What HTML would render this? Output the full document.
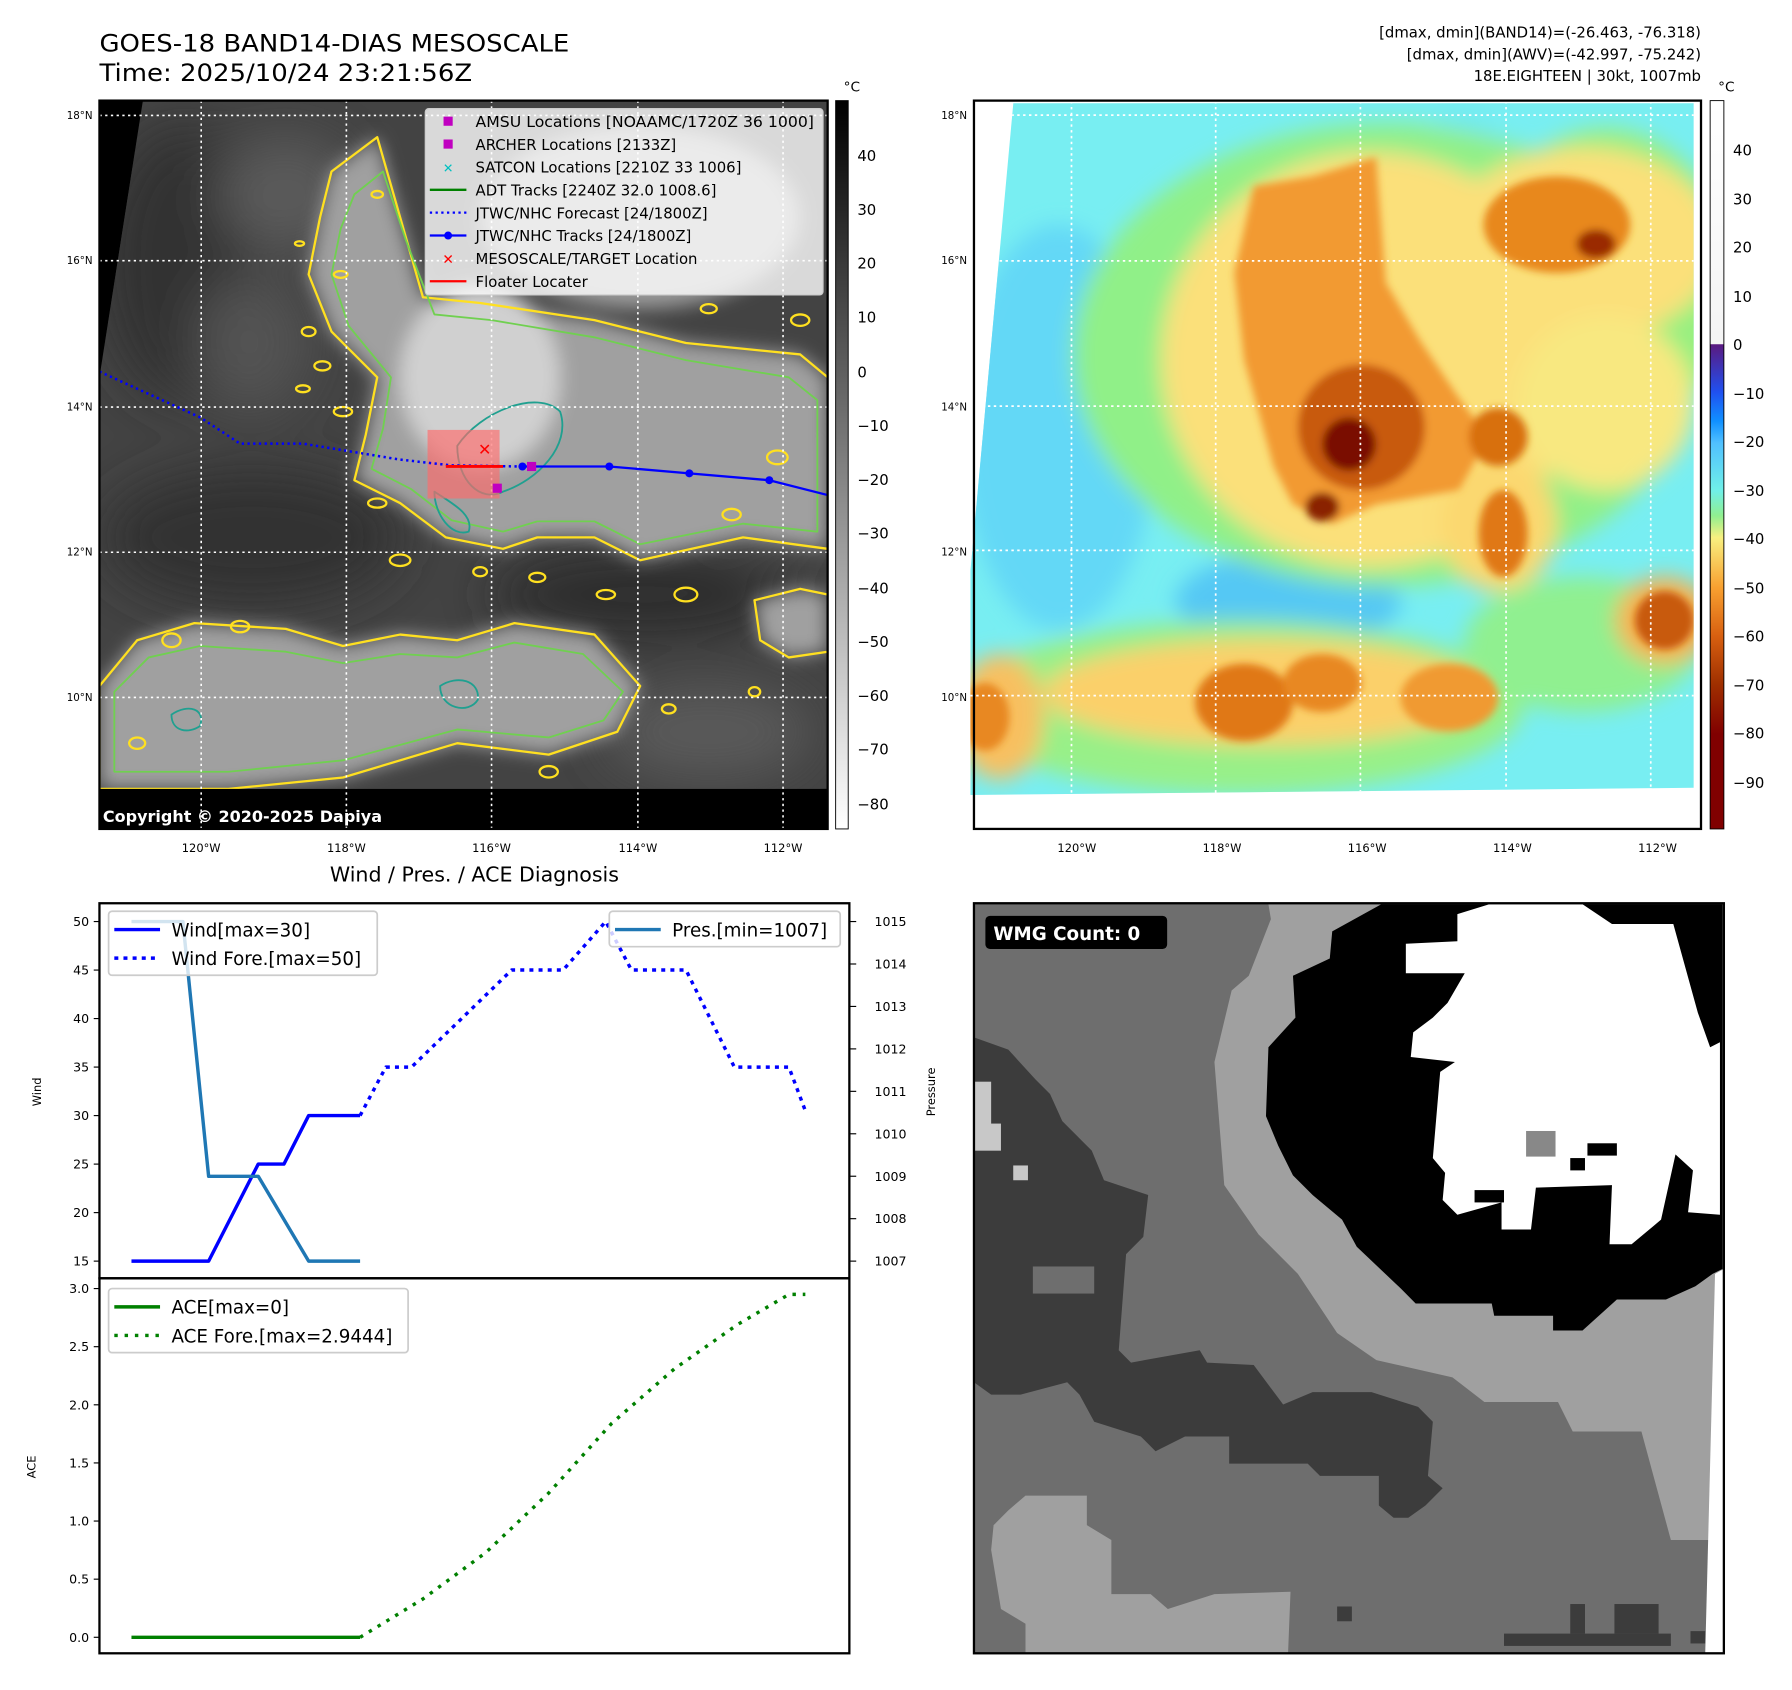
<!DOCTYPE html>
<html><head><meta charset="utf-8">
<style>
html,body{margin:0;padding:0;background:#fff;}
svg{display:block;font-family:"DejaVu Sans","Liberation Sans",sans-serif;}
</style></head>
<body>
<svg id="root" width="1792" height="1690" viewBox="0 0 1567.6 1478.1" preserveAspectRatio="none">
<defs>
  <clipPath id="clipL"><polygon points="125,88 724,88 724,690 87,698 87,330"/></clipPath>
  <clipPath id="clipR"><polygon points="88,28 1480,28 1480,1447 0,1462 0,1000"/></clipPath>
  <filter id="blur8" x="-20%" y="-20%" width="140%" height="140%"><feGaussianBlur stdDeviation="8"/></filter>
  <filter id="blur20" x="-20%" y="-20%" width="140%" height="140%"><feGaussianBlur stdDeviation="22"/></filter>
  <linearGradient id="cbL" x1="0" y1="0" x2="0" y2="1">
    <stop offset="0" stop-color="#000"/><stop offset="1" stop-color="#fff"/>
  </linearGradient>
  <linearGradient id="cbR" x1="0" y1="0" x2="0" y2="1">
    <stop offset="0" stop-color="#ffffff"/><stop offset="0.334" stop-color="#f4f4f4"/>
    <stop offset="0.335" stop-color="#5a1a80"/><stop offset="0.40" stop-color="#2050f0"/>
    <stop offset="0.44" stop-color="#1090ff"/><stop offset="0.47" stop-color="#50c0ff"/>
    <stop offset="0.536" stop-color="#70f0e8"/><stop offset="0.57" stop-color="#90f090"/>
    <stop offset="0.60" stop-color="#f8f080"/><stop offset="0.669" stop-color="#f8a030"/>
    <stop offset="0.735" stop-color="#d86010"/><stop offset="0.80" stop-color="#a03000"/>
    <stop offset="0.87" stop-color="#800000"/><stop offset="1" stop-color="#800000"/>
  </linearGradient>
</defs>

<text x="87" y="45" font-size="21" textLength="411" lengthAdjust="spacingAndGlyphs">GOES-18 BAND14-DIAS MESOSCALE</text>
<text x="87" y="71" font-size="21" textLength="326" lengthAdjust="spacingAndGlyphs">Time: 2025/10/24 23:21:56Z</text>
<g font-size="13" text-anchor="end">
  <text x="1488" y="33">[dmax, dmin](BAND14)=(-26.463, -76.318)</text>
  <text x="1488" y="52">[dmax, dmin](AWV)=(-42.997, -75.242)</text>
  <text x="1488" y="71">18E.EIGHTEEN | 30kt, 1007mb</text>
</g>

<!-- LEFT MAP -->
<g>
  <rect x="87" y="88" width="637" height="637" fill="#000"/>
  <g clip-path="url(#clipL)">
    <rect x="87" y="88" width="637" height="637" fill="#434343"/>
    <g filter="url(#blur20)">
      <ellipse cx="160" cy="230" rx="70" ry="120" fill="#333"/>
      <ellipse cx="220" cy="470" rx="130" ry="60" fill="#303030"/>
      <ellipse cx="560" cy="520" rx="130" ry="40" fill="#2e2e2e"/>
      <ellipse cx="620" cy="640" rx="90" ry="40" fill="#5a5a5a"/>
      <ellipse cx="250" cy="170" rx="60" ry="50" fill="#5a5a5a"/>
      <ellipse cx="220" cy="300" rx="50" ry="60" fill="#525252"/>
      <ellipse cx="650" cy="420" rx="70" ry="50" fill="#5a5a5a"/>
    </g>
    <g filter="url(#blur8)">
      <polygon fill="#a0a0a0" points="290,150 330,120 350,190 370,260 420,265 520,280 600,300 700,310 724,330 724,480 650,470 560,490 520,470 470,470 440,480 390,470 350,440 310,420 320,380 330,330 290,290 270,240 280,190"/>
      <ellipse cx="420" cy="330" rx="70" ry="80" fill="#d0d0d0"/>
      <ellipse cx="560" cy="190" rx="140" ry="80" fill="#9a9a9a"/>
      <polygon fill="#a0a0a0" points="87,600 120,560 170,545 250,550 300,565 350,555 400,560 450,545 520,555 560,600 540,640 480,660 400,650 300,680 200,690 87,690"/>
      <polygon fill="#a0a0a0" points="660,525 700,515 724,520 724,570 690,575 665,560"/>
    </g>
    <g fill="none" stroke-linejoin="round">
      <polygon stroke="#ffe020" stroke-width="2" points="290,150 330,120 350,190 370,260 420,265 520,280 600,300 700,310 724,330 724,480 650,470 560,490 520,470 470,470 440,480 390,470 350,440 310,420 320,380 330,330 290,290 270,240 280,190"/>
      <polygon stroke="#70d050" stroke-width="1.6" points="310,170 335,150 355,210 380,275 430,280 520,295 600,315 690,330 715,350 715,465 650,458 560,476 520,456 470,456 440,465 395,455 360,428 325,410 335,375 342,330 305,285 290,240 298,200"/>
      <path stroke="#20a090" stroke-width="1.6" d="M400,390 C420,360 470,340 490,360 C500,390 470,420 440,430 C420,440 400,420 400,390 Z M380,430 C395,440 415,450 410,465 C395,470 380,450 380,430 Z"/>
      <polygon stroke="#ffe020" stroke-width="2" points="87,600 120,560 170,545 250,550 300,565 350,555 400,560 450,545 520,555 560,600 540,640 480,660 400,650 300,680 200,690 87,690"/>
      <polygon stroke="#70d050" stroke-width="1.6" points="100,605 130,575 175,565 250,570 300,580 350,572 400,575 450,562 510,572 545,605 528,630 480,645 400,638 300,665 200,675 100,675"/>
      <path stroke="#20a090" stroke-width="1.6" d="M385,600 C400,590 420,595 418,612 C410,625 385,620 385,600 Z M150,625 C165,615 180,620 175,635 C165,642 150,640 150,625 Z"/>
      <polygon stroke="#ffe020" stroke-width="2" points="660,525 700,515 724,520 724,570 690,575 665,560"/>
      <g stroke="#ffe020" stroke-width="2">
        <ellipse cx="262" cy="213" rx="4" ry="2"/><ellipse cx="298" cy="240" rx="6" ry="3"/><ellipse cx="270" cy="290" rx="6" ry="4"/>
        <ellipse cx="282" cy="320" rx="7" ry="4"/><ellipse cx="300" cy="360" rx="8" ry="4"/><ellipse cx="265" cy="340" rx="6" ry="3"/>
        <ellipse cx="330" cy="440" rx="8" ry="4"/><ellipse cx="350" cy="490" rx="9" ry="5"/><ellipse cx="330" cy="170" rx="5" ry="3"/>
        <ellipse cx="600" cy="520" rx="10" ry="6"/><ellipse cx="640" cy="450" rx="8" ry="5"/><ellipse cx="680" cy="400" rx="9" ry="6"/>
        <ellipse cx="700" cy="280" rx="8" ry="5"/><ellipse cx="620" cy="270" rx="7" ry="4"/><ellipse cx="470" cy="505" rx="7" ry="4"/>
        <ellipse cx="420" cy="500" rx="6" ry="4"/><ellipse cx="530" cy="520" rx="8" ry="4"/><ellipse cx="150" cy="560" rx="8" ry="6"/>
        <ellipse cx="210" cy="548" rx="8" ry="5"/><ellipse cx="585" cy="620" rx="6" ry="4"/><ellipse cx="480" cy="675" rx="8" ry="5"/>
        <ellipse cx="660" cy="605" rx="5" ry="4"/><ellipse cx="120" cy="650" rx="7" ry="5"/>
      </g>
    </g>
  </g>
  <rect x="87" y="690" width="637" height="35" fill="#000"/>
  <g stroke="#fff" stroke-width="1.4" stroke-dasharray="2 3">
    <line x1="176" y1="88" x2="176" y2="725"/><line x1="303" y1="88" x2="303" y2="725"/><line x1="430" y1="88" x2="430" y2="725"/><line x1="558" y1="88" x2="558" y2="725"/><line x1="685" y1="88" x2="685" y2="725"/>
    <line x1="87" y1="101" x2="724" y2="101"/><line x1="87" y1="228" x2="724" y2="228"/><line x1="87" y1="356" x2="724" y2="356"/><line x1="87" y1="483" x2="724" y2="483"/><line x1="87" y1="610" x2="724" y2="610"/>
  </g>
  <rect x="374" y="376" width="63" height="60" fill="#ff6a6a" opacity="0.65"/>
  <polyline points="87,325 175,365 210,388 265,388 350,402 395,407 455,408" fill="none" stroke="#0000ff" stroke-width="2.2" stroke-dasharray="2 3"/>
  <polyline points="457,408 533,408 603,414 673,420 724,433" fill="none" stroke="#0000ff" stroke-width="2"/>
  <g fill="#0000ff"><circle cx="457" cy="408" r="3.5"/><circle cx="533" cy="408" r="3.5"/><circle cx="603" cy="414" r="3.5"/><circle cx="673" cy="420" r="3.5"/></g>
  <line x1="390" y1="408" x2="440" y2="408" stroke="#ff0000" stroke-width="2.5"/>
  <text x="424" y="398" font-size="14" font-weight="bold" fill="#ff0000" text-anchor="middle">✕</text>
  <rect x="461" y="404" width="8" height="8" fill="#c000c0"/>
  <rect x="431" y="423" width="8" height="8" fill="#c000c0"/>
  <rect x="87" y="88" width="637" height="637" fill="none" stroke="#000" stroke-width="2"/>
  <text x="90" y="719" font-size="14" font-weight="bold" fill="#fff">Copyright © 2020-2025 Dapiya</text>
  <g>
    <rect x="372" y="95" width="348" height="163" rx="3" fill="#ffffff" fill-opacity="0.8" stroke="#ccc"/>
    <g font-size="13">
      <rect x="388" y="102" width="8" height="8" fill="#c000c0"/><text x="416" y="111" textLength="296" lengthAdjust="spacingAndGlyphs">AMSU Locations [NOAAMC/1720Z 36 1000]</text>
      <rect x="388" y="122" width="8" height="8" fill="#c000c0"/><text x="416" y="131">ARCHER Locations [2133Z]</text>
      <text x="392" y="151" fill="#00c0c0" font-weight="bold" text-anchor="middle" font-size="11">✕</text><text x="416" y="151">SATCON Locations [2210Z 33 1006]</text>
      <line x1="376" y1="166" x2="408" y2="166" stroke="#008000" stroke-width="2"/><text x="416" y="171">ADT Tracks [2240Z 32.0 1008.6]</text>
      <line x1="376" y1="186" x2="408" y2="186" stroke="#0000ff" stroke-width="2" stroke-dasharray="2 3"/><text x="416" y="191">JTWC/NHC Forecast [24/1800Z]</text>
      <line x1="376" y1="206" x2="408" y2="206" stroke="#0000ff" stroke-width="2"/><circle cx="392" cy="206" r="3.5" fill="#0000ff"/><text x="416" y="211">JTWC/NHC Tracks [24/1800Z]</text>
      <text x="392" y="231" fill="#ff0000" font-weight="bold" text-anchor="middle" font-size="12">✕</text><text x="416" y="231">MESOSCALE/TARGET Location</text>
      <line x1="376" y1="246" x2="408" y2="246" stroke="#ff0000" stroke-width="2"/><text x="416" y="251">Floater Locater</text>
    </g>
  </g>
  <g font-size="9" text-anchor="end">
    <text x="81" y="104">18°N</text><text x="81" y="231">16°N</text><text x="81" y="359">14°N</text><text x="81" y="486">12°N</text><text x="81" y="613">10°N</text>
  </g>
  <g font-size="10" text-anchor="middle">
    <text x="176" y="745">120°W</text><text x="303" y="745">118°W</text><text x="430" y="745">116°W</text><text x="558" y="745">114°W</text><text x="685" y="745">112°W</text>
  </g>
  <g>
    <rect x="731" y="88" width="11" height="637" fill="url(#cbL)" stroke="#000" stroke-width="0.8"/>
    <text x="738" y="80" font-size="12">°C</text>
    <g font-size="13">
      <text x="750" y="141">40</text><text x="750" y="188">30</text><text x="750" y="235">20</text><text x="750" y="282">10</text><text x="750" y="330">0</text>
      <text x="750" y="377">−10</text><text x="750" y="424">−20</text><text x="750" y="471">−30</text><text x="750" y="519">−40</text><text x="750" y="566">−50</text>
      <text x="750" y="613">−60</text><text x="750" y="660">−70</text><text x="750" y="708">−80</text>
    </g>
  </g>
</g>

<!-- RIGHT MAP -->
<g>
  <rect x="852" y="88" width="636" height="637" fill="#fff"/>
  <svg x="848.8" y="78.35" width="670.5" height="661.7" viewBox="0 0 1568 1568" preserveAspectRatio="none">
    <g clip-path="url(#clipR)">
      <rect x="0" y="0" width="1568" height="1568" fill="#78eef2"/>
      <g filter="url(#blur20)">
        <ellipse cx="180" cy="700" rx="200" ry="420" fill="#64d8f6"/>
        <ellipse cx="650" cy="1060" rx="230" ry="100" fill="#55c8f4"/>
        <ellipse cx="750" cy="1350" rx="160" ry="90" fill="#5ccff5"/>
        <ellipse cx="1000" cy="180" rx="120" ry="130" fill="#6ee8f2"/>
        <ellipse cx="850" cy="550" rx="640" ry="480" fill="#90f088"/>
        <ellipse cx="1300" cy="400" rx="260" ry="320" fill="#98f080"/>
        <ellipse cx="550" cy="1280" rx="580" ry="180" fill="#98f088"/>
        <ellipse cx="1250" cy="1150" rx="240" ry="140" fill="#90f090"/>
        <ellipse cx="820" cy="560" rx="430" ry="430" fill="#fbe07a"/>
        <ellipse cx="1250" cy="320" rx="280" ry="200" fill="#fbe07a"/>
        <ellipse cx="1300" cy="650" rx="180" ry="180" fill="#f8e880"/>
        <ellipse cx="1080" cy="900" rx="120" ry="140" fill="#fbd870"/>
        <ellipse cx="600" cy="1250" rx="450" ry="110" fill="#fbd06a"/>
        <ellipse cx="60" cy="1300" rx="90" ry="130" fill="#f8c060"/>
        <ellipse cx="1420" cy="1100" rx="100" ry="90" fill="#f8b050"/>
      </g>
      <g filter="url(#blur8)">
        <polygon fill="#f29a30" points="580,200 700,180 830,140 850,400 920,520 1000,640 1060,720 1000,830 830,860 740,900 660,860 620,780 560,560 540,380"/>
        <ellipse cx="1200" cy="280" rx="150" ry="100" fill="#e8881c"/>
        <ellipse cx="1080" cy="720" rx="60" ry="60" fill="#d8700c"/>
        <ellipse cx="1090" cy="920" rx="50" ry="90" fill="#e07818"/>
        <ellipse cx="560" cy="1270" rx="100" ry="80" fill="#e07818"/>
        <ellipse cx="720" cy="1230" rx="80" ry="60" fill="#e88820"/>
        <ellipse cx="980" cy="1260" rx="100" ry="70" fill="#f09a30"/>
        <ellipse cx="1420" cy="1100" rx="60" ry="60" fill="#c85a08"/>
        <ellipse cx="30" cy="1300" rx="50" ry="70" fill="#e88820"/>
        <ellipse cx="800" cy="700" rx="130" ry="130" fill="#c85a08"/>
        <ellipse cx="775" cy="735" rx="55" ry="55" fill="#7a0c00"/>
        <ellipse cx="720" cy="865" rx="35" ry="30" fill="#8a2000"/>
        <ellipse cx="1280" cy="320" rx="40" ry="30" fill="#9a2a00"/>
      </g>
      <g stroke="#fff" stroke-width="3.5" stroke-dasharray="5 7">
        <line x1="207" y1="0" x2="207" y2="1568"/><line x1="502" y1="0" x2="502" y2="1568"/><line x1="798" y1="0" x2="798" y2="1568"/><line x1="1096" y1="0" x2="1096" y2="1568"/><line x1="1392" y1="0" x2="1392" y2="1568"/>
        <line x1="0" y1="53" x2="1568" y2="53"/><line x1="0" y1="355" x2="1568" y2="355"/><line x1="0" y1="656" x2="1568" y2="656"/><line x1="0" y1="955" x2="1568" y2="955"/><line x1="0" y1="1256" x2="1568" y2="1256"/>
      </g>
    </g>
  </svg>
  <rect x="852" y="88" width="636" height="637" fill="none" stroke="#000" stroke-width="2"/>
  <g font-size="9" text-anchor="end">
    <text x="846" y="104">18°N</text><text x="846" y="231">16°N</text><text x="846" y="359">14°N</text><text x="846" y="486">12°N</text><text x="846" y="613">10°N</text>
  </g>
  <g font-size="10" text-anchor="middle">
    <text x="942" y="745">120°W</text><text x="1069" y="745">118°W</text><text x="1196" y="745">116°W</text><text x="1323" y="745">114°W</text><text x="1450" y="745">112°W</text>
  </g>
  <g>
    <rect x="1496" y="88" width="12" height="637" fill="url(#cbR)" stroke="#000" stroke-width="0.8"/>
    <text x="1503" y="80" font-size="12">°C</text>
    <g font-size="13">
      <text x="1516" y="136">40</text><text x="1516" y="179">30</text><text x="1516" y="221">20</text><text x="1516" y="264">10</text><text x="1516" y="306">0</text>
      <text x="1516" y="349">−10</text><text x="1516" y="391">−20</text><text x="1516" y="434">−30</text><text x="1516" y="476">−40</text><text x="1516" y="519">−50</text>
      <text x="1516" y="561">−60</text><text x="1516" y="604">−70</text><text x="1516" y="646">−80</text><text x="1516" y="689">−90</text>
    </g>
  </g>
</g>

<!-- WMG PANEL -->
<g>
  <svg x="852" y="786.6" width="670.6" height="673.2" viewBox="0 0 1562 1562" preserveAspectRatio="none">
    <rect x="0" y="8" width="1528" height="1522" fill="#6e6e6e"/>
    <polygon fill="#a0a0a0" points="600,10 830,10 760,600 900,800 1525,750 1520,1300 1420,1300 1360,1080 1220,1080 1190,1020 1040,1020 975,970 820,935 740,880 660,760 580,680 510,580 490,330 525,185 560,155 605,40"/>
    <polygon fill="#000" points="830,10 1525,10 1525,750 1505,760 1470,785 1410,812 1310,812 1240,875 1180,875 1180,845 1060,845 1055,820 900,820 870,790 780,705 750,650 690,600 650,560 620,500 595,440 600,300 655,240 650,155 725,120 730,65"/>
    <polygon fill="#fff" points="880,90 985,85 985,30 1050,10 1240,10 1300,50 1425,50 1450,140 1475,230 1500,300 1520,290 1520,640 1455,635 1465,550 1410,500 1400,380 1485,345 1480,405 1450,405 1440,470 1400,650 1340,700 1295,700 1300,580 1145,585 1135,670 1075,670 1075,615 985,640 955,610 960,555 935,525 950,350 980,330 890,320 895,270 935,240 965,210 1000,150 880,150"/>
    <rect x="1125" y="470" width="60" height="52" fill="#888"/>
    <rect x="1250" y="495" width="60" height="25" fill="#000"/><rect x="1215" y="525" width="30" height="25" fill="#000"/><rect x="1020" y="590" width="60" height="25" fill="#000"/>
    <polygon fill="#3c3c3c" points="0,280 70,305 125,365 155,395 180,450 210,480 240,510 265,570 355,600 345,685 310,720 295,915 320,940 460,915 475,940 570,945 630,1025 690,1000 810,1000 905,1030 935,1060 925,1170 955,1195 920,1230 885,1255 855,1255 825,1230 825,1170 705,1170 680,1145 520,1145 520,1090 430,1090 370,1120 340,1090 245,1060 215,1005 190,980 95,1005 35,1005 0,980"/>
    <rect x="120" y="745" width="125" height="55" fill="#6e6e6e"/>
    <rect x="0" y="370" width="35" height="90" fill="#c8c8c8"/><rect x="0" y="455" width="55" height="55" fill="#c8c8c8"/><rect x="80" y="540" width="30" height="30" fill="#c8c8c8"/>
    <polygon fill="#a0a0a0" points="40,1270 70,1240 105,1210 230,1210 230,1270 280,1300 280,1410 360,1410 395,1440 490,1410 645,1405 640,1530 105,1530 105,1470 55,1440 35,1320"/>
    <g fill="#3c3c3c"><rect x="1080" y="1490" width="340" height="25"/><rect x="1215" y="1430" width="30" height="60"/><rect x="1305" y="1430" width="90" height="60"/><rect x="740" y="1435" width="30" height="30"/><rect x="1460" y="1485" width="30" height="25"/></g>
    <polygon fill="#fff" points="1510,760 1528,750 1528,1530 1490,1530"/>
  </svg>
  <rect x="852" y="790" width="656" height="656" fill="none" stroke="#000" stroke-width="2"/>
  <rect x="862" y="801" width="159" height="29" rx="4" fill="#000"/>
  <text x="869" y="822" font-size="16" font-weight="bold" fill="#fff">WMG Count: 0</text>
</g>

<text x="415" y="771" font-size="18" text-anchor="middle">Wind / Pres. / ACE Diagnosis</text>
<g id="chart"></g>

<script>
// ---- chart data ----
const windObsSteps = [0, 3, 4.93, 5.93, 6.89, 8.89];
const windObsValues = [15, 15, 25, 25, 30, 30];
const presObsSteps = [0, 2, 3, 4.93, 6.89, 8.89];
const presObsValues = [1015, 1015, 1009, 1009, 1007, 1007];
const windForeSteps = [8.89, 9.89, 10.89, 14.78, 16.78, 18.44, 19.44, 21.56, 23.44, 25.56, 26.2];
const windForeValues = [30, 35, 35, 45, 45, 50, 45, 45, 35, 35, 30.5];
const aceObsSteps = [0, 8.89];
const aceObsValues = [0, 0];
const aceForeSteps = [8.89, 11.33, 13.78, 16.22, 18.67, 21.11, 23.56, 25.56, 26.2];
const aceForeValues = [0, 0.33, 0.73, 1.24, 1.84, 2.31, 2.69, 2.95, 2.95];
const windTicks = [15, 20, 25, 30, 35, 40, 45, 50];
const presTicks = [1007, 1008, 1009, 1010, 1011, 1012, 1013, 1014, 1015];
const aceTicks = [0.0, 0.5, 1.0, 1.5, 2.0, 2.5, 3.0];

const NS = 'http://www.w3.org/2000/svg';
const chart = document.getElementById('chart');
function xS(s){ return 115 + s * 22.5; }
function yWind(v){ return 1103 - (v - 15) * (297 / 35); }
function yPres(p){ return 1103 - (p - 1007) * (297 / 8); }
function yAce(v){ return 1432 - v * (305 / 3); }
function mk(tag, attrs){ const e = document.createElementNS(NS, tag); for (const k in attrs) e.setAttribute(k, attrs[k]); chart.appendChild(e); return e; }
function line(steps, vals, yf, color, dash, name){
  const pts = steps.map((s, i) => xS(s).toFixed(1) + ',' + yf(vals[i]).toFixed(1)).join(' ');
  const el = mk('polyline', {points: pts, fill: 'none', stroke: color, 'stroke-width': 3, 'stroke-linejoin': 'round'});
  if (dash) el.setAttribute('stroke-dasharray', dash);
  
  
}
function txt(x, y, s, size, anchor){ const t = mk('text', {x: x, y: y, 'font-size': size, 'text-anchor': anchor || 'start'}); t.textContent = s; return t; }

const f1 = mk('rect', {x: 87, y: 790, width: 656, height: 328, fill: 'none', stroke: '#000', 'stroke-width': 2});


const f2 = mk('rect', {x: 87, y: 1118, width: 656, height: 328, fill: 'none', stroke: '#000', 'stroke-width': 2});



windTicks.forEach(v => { mk('line', {x1: 82, x2: 87, y1: yWind(v), y2: yWind(v), stroke: '#000'}); txt(78, yWind(v) + 4, String(v), 11, 'end'); });
presTicks.forEach(v => { mk('line', {x1: 743, x2: 749, y1: yPres(v), y2: yPres(v), stroke: '#000'}); txt(765, yPres(v) + 4, String(v), 11, 'start'); });
aceTicks.forEach(v => { mk('line', {x1: 82, x2: 87, y1: yAce(v), y2: yAce(v), stroke: '#000'}); txt(78, yAce(v) + 4, v.toFixed(1), 11, 'end'); });
const wl = txt(0, 0, 'Wind', 10, 'middle'); wl.setAttribute('transform', 'translate(36,955) rotate(-90)');


const pl = txt(0, 0, 'Pressure', 10, 'middle'); pl.setAttribute('transform', 'translate(818,955) rotate(-90)');


const al = txt(0, 0, 'ACE', 10, 'middle'); al.setAttribute('transform', 'translate(31,1283) rotate(-90)');



line(windObsSteps, windObsValues, yWind, '#0000ff', null, 'wind-line');
line(windForeSteps, windForeValues, yWind, '#0000ff', '3.5 4.5', 'wind-forecast-line');
line(presObsSteps, presObsValues, yPres, '#1f77b4', null, 'pressure-line');
line(aceObsSteps, aceObsValues, yAce, '#008000', null, 'ace-line');
line(aceForeSteps, aceForeValues, yAce, '#008000', '3 6', 'ace-forecast-line');

function legend(x, y, w, entries, name){
  const g = mk('rect', {x: x, y: y, width: w, height: entries.length * 25 + 6, rx: 3, fill: '#fff', 'fill-opacity': 0.8, stroke: '#ccc', 'stroke-width': 1.5});
  
  
  entries.forEach((e, i) => {
    const yy = y + 16 + i * 25;
    const l = mk('line', {x1: x + 5, x2: x + 45, y1: yy, y2: yy, stroke: e[1], 'stroke-width': 3});
    if (e[2]) l.setAttribute('stroke-dasharray', e[2]);
    txt(x + 55, yy + 6, e[0], 16, 'start');
  });
}
legend(95, 797, 235, [['Wind[max=30]', '#0000ff'], ['Wind Fore.[max=50]', '#0000ff', '3.5 4.5']], 'wind-legend');
legend(533, 797, 202, [['Pres.[min=1007]', '#1f77b4']], 'pressure-legend');
legend(95, 1127, 262, [['ACE[max=0]', '#008000'], ['ACE Fore.[max=2.9444]', '#008000', '3 6']], 'ace-legend');
</script>
</svg>
</body></html>
